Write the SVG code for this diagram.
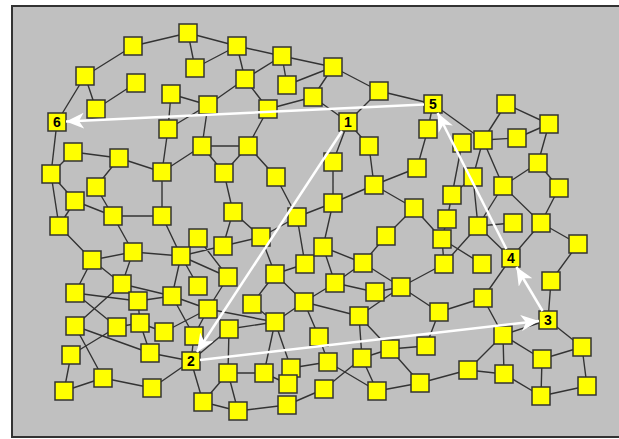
<svg xmlns="http://www.w3.org/2000/svg" width="619" height="439" viewBox="0 0 619 439">
<style>
.e path{stroke:#333;stroke-width:1.4;fill:none}
.n rect{fill:#ffff00;stroke:#333;stroke-width:1.5}
.n text{font-family:"Liberation Sans",Arial,sans-serif;font-weight:bold;font-size:14px;fill:#000;text-anchor:middle}
.a path{stroke:#fff;stroke-width:2.5;fill:none}
</style>
<defs>
<marker id="ah" markerUnits="userSpaceOnUse" markerWidth="20" markerHeight="16" refX="18" refY="8" orient="auto" viewBox="0 0 20 16">
<path d="M18,8 L0,0 L5,8 L0,16 Z" fill="#fff"/>
</marker>
</defs>
<rect x="0" y="0" width="619" height="439" fill="#fff"/>
<rect x="12" y="6" width="612" height="431" fill="#c0c0c0" stroke="#333" stroke-width="2"/>
<g id="edges" class="e">
<path d="M133 46L188 33M85 76L133 46M85 76L57 122M85 76L96 109M96 109L136 83M188 33L237 46M188 33L195 68M237 46L195 68M237 46L282 56M237 46L245 79M282 56L245 79M282 56L287 85M282 56L333 67M287 85L333 67M245 79L268 109M268 109L313 97M268 109L248 146M171 94L208 105M208 105L245 79M171 94L168 129M208 105L168 129M208 105L202 146M202 146L248 146M168 129L162 172M313 97L333 67M333 67L379 91M379 91L433 104M379 91L348 122M313 97L348 122M348 122L369 146M348 122L333 162M433 104L428 129M433 104L483 140M428 129L417 168M506 104L483 140M506 104L549 124M483 140L517 138M517 138L549 124M549 124L538 163M483 140L503 186M483 140L473 177M462 143L452 195"/>
<path d="M57 122L51 174M73 152L51 174M73 152L119 158M119 158L162 172M119 158L96 187M51 174L75 201M51 174L59 226M96 187L113 216M75 201L113 216M75 201L59 226M113 216L162 216M113 216L133 252M59 226L92 260M92 260L133 252M133 252L181 256M92 260L75 293M92 260L122 284M133 252L122 284M122 284L172 296M138 301L172 296"/>
<path d="M162 172L162 216M162 216L181 256M181 256L198 238M181 256L223 246M181 256L228 277M181 256L172 296M181 256L198 286M198 238L228 277M202 146L162 172M202 146L224 173M248 146L224 173M248 146L276 177M224 173L233 212M276 177L297 217M233 212L223 246M233 212L261 237M261 237L223 246M261 237L297 217M261 237L275 274M297 217L305 264M275 274L305 264M275 274L252 304M275 274L304 302M228 277L208 309M172 296L208 309M172 296L194 336M208 309L164 332M208 309L194 336M208 309L275 322M252 304L275 322M304 302L275 322M229 329L275 322M229 329L191 361M229 329L228 373M194 336L191 361M150 353L191 361M191 361L152 388M191 361L203 402M228 373L264 373M228 373L203 402M228 373L238 411M203 402L238 411M238 411L287 405M264 373L275 322M275 322L291 368M288 384L264 373M287 405L324 389M291 368L328 362"/>
<path d="M304 302L335 283M304 302L359 316M304 302L319 337M335 283L375 292M375 292L401 287M401 287L359 316M401 287L439 312M359 316L362 358M359 316L390 349M439 312L426 346M390 349L426 346M362 358L390 349M319 337L328 362M328 362L377 391M362 358L324 389M362 358L377 391M377 391L420 383M420 383L390 349M420 383L468 370"/>
<path d="M333 162L333 203M369 146L374 185M374 185L417 168M374 185L333 203M374 185L414 208M297 217L333 203M333 203L323 247M414 208L442 239M452 195L447 219M447 219L442 239M323 247L363 263M386 236L363 263M323 247L335 283M363 263L335 283M363 263L401 287M444 264L401 287M444 264L442 239M323 247L305 264M414 208L386 236M452 195L473 177"/>
<path d="M538 163L503 186M538 163L559 188M503 186L478 226M503 186L541 223M559 188L541 223M473 177L478 226M478 226L513 223M478 226L511 258M541 223L511 258M541 223L578 244M578 244L551 281M511 258L483 298M442 239L482 264M478 226L444 264M551 281L548 320M548 320L582 347M483 298L503 335M483 298L439 312M503 335L542 359M503 335L468 370M503 335L504 374M468 370L504 374M504 374L541 396M542 359L541 396M542 359L582 347M582 347L587 386M541 396L587 386M503 335L548 320"/>
<path d="M75 293L138 301M122 284L75 326M75 293L117 327M75 326L150 353M75 326L103 378M117 327L71 355M71 355L64 391M64 391L103 378M103 378L152 388M138 301L140 323M140 323L150 353M117 327L140 323M140 323L164 332"/>
</g>
<g class="n">
<g id="n1"><rect x="124" y="37" width="18" height="18"/></g>
<g id="n2"><rect x="179" y="24" width="18" height="18"/></g>
<g id="n3"><rect x="228" y="37" width="18" height="18"/></g>
<g id="n4"><rect x="273" y="47" width="18" height="18"/></g>
<g id="n5"><rect x="186" y="59" width="18" height="18"/></g>
<g id="n6"><rect x="236" y="70" width="18" height="18"/></g>
<g id="n7"><rect x="278" y="76" width="18" height="18"/></g>
<g id="n8"><rect x="76" y="67" width="18" height="18"/></g>
<g id="n9"><rect x="127" y="74" width="18" height="18"/></g>
<g id="n10"><rect x="87" y="100" width="18" height="18"/></g>
<g id="n11"><rect x="162" y="85" width="18" height="18"/></g>
<g id="n12"><rect x="199" y="96" width="18" height="18"/></g>
<g id="n13"><rect x="259" y="100" width="18" height="18"/></g>
<g id="n14"><rect x="304" y="88" width="18" height="18"/></g>
<g id="n15"><rect x="324" y="58" width="18" height="18"/></g>
<g id="n16"><rect x="370" y="82" width="18" height="18"/></g>
<g id="n17"><rect x="419" y="120" width="18" height="18"/></g>
<g id="n18"><rect x="360" y="137" width="18" height="18"/></g>
<g id="n19"><rect x="497" y="95" width="18" height="18"/></g>
<g id="n20"><rect x="540" y="115" width="18" height="18"/></g>
<g id="n21"><rect x="474" y="131" width="18" height="18"/></g>
<g id="n22"><rect x="508" y="129" width="18" height="18"/></g>
<g id="n23"><rect x="453" y="134" width="18" height="18"/></g>
<g id="n24"><rect x="159" y="120" width="18" height="18"/></g>
<g id="n25"><rect x="193" y="137" width="18" height="18"/></g>
<g id="n26"><rect x="239" y="137" width="18" height="18"/></g>
<g id="n27"><rect x="64" y="143" width="18" height="18"/></g>
<g id="n28"><rect x="110" y="149" width="18" height="18"/></g>
<g id="n29"><rect x="153" y="163" width="18" height="18"/></g>
<g id="n30"><rect x="42" y="165" width="18" height="18"/></g>
<g id="n31"><rect x="87" y="178" width="18" height="18"/></g>
<g id="n32"><rect x="66" y="192" width="18" height="18"/></g>
<g id="n33"><rect x="104" y="207" width="18" height="18"/></g>
<g id="n34"><rect x="153" y="207" width="18" height="18"/></g>
<g id="n35"><rect x="50" y="217" width="18" height="18"/></g>
<g id="n36"><rect x="215" y="164" width="18" height="18"/></g>
<g id="n37"><rect x="267" y="168" width="18" height="18"/></g>
<g id="n38"><rect x="224" y="203" width="18" height="18"/></g>
<g id="n39"><rect x="288" y="208" width="18" height="18"/></g>
<g id="n40"><rect x="189" y="229" width="18" height="18"/></g>
<g id="n41"><rect x="252" y="228" width="18" height="18"/></g>
<g id="n42"><rect x="214" y="237" width="18" height="18"/></g>
<g id="n43"><rect x="124" y="243" width="18" height="18"/></g>
<g id="n44"><rect x="83" y="251" width="18" height="18"/></g>
<g id="n45"><rect x="172" y="247" width="18" height="18"/></g>
<g id="n46"><rect x="296" y="255" width="18" height="18"/></g>
<g id="n47"><rect x="266" y="265" width="18" height="18"/></g>
<g id="n48"><rect x="219" y="268" width="18" height="18"/></g>
<g id="n49"><rect x="189" y="277" width="18" height="18"/></g>
<g id="n50"><rect x="163" y="287" width="18" height="18"/></g>
<g id="n51"><rect x="113" y="275" width="18" height="18"/></g>
<g id="n52"><rect x="66" y="284" width="18" height="18"/></g>
<g id="n53"><rect x="129" y="292" width="18" height="18"/></g>
<g id="n54"><rect x="324" y="153" width="18" height="18"/></g>
<g id="n55"><rect x="408" y="159" width="18" height="18"/></g>
<g id="n56"><rect x="365" y="176" width="18" height="18"/></g>
<g id="n57"><rect x="443" y="186" width="18" height="18"/></g>
<g id="n58"><rect x="324" y="194" width="18" height="18"/></g>
<g id="n59"><rect x="405" y="199" width="18" height="18"/></g>
<g id="n60"><rect x="438" y="210" width="18" height="18"/></g>
<g id="n62"><rect x="377" y="227" width="18" height="18"/></g>
<g id="n63"><rect x="433" y="230" width="18" height="18"/></g>
<g id="n64"><rect x="314" y="238" width="18" height="18"/></g>
<g id="n65"><rect x="354" y="254" width="18" height="18"/></g>
<g id="n66"><rect x="435" y="255" width="18" height="18"/></g>
<g id="n67"><rect x="326" y="274" width="18" height="18"/></g>
<g id="n68"><rect x="366" y="283" width="18" height="18"/></g>
<g id="n69"><rect x="392" y="278" width="18" height="18"/></g>
<g id="n70"><rect x="464" y="168" width="18" height="18"/></g>
<g id="n71"><rect x="494" y="177" width="18" height="18"/></g>
<g id="n72"><rect x="529" y="154" width="18" height="18"/></g>
<g id="n73"><rect x="550" y="179" width="18" height="18"/></g>
<g id="n76"><rect x="469" y="217" width="18" height="18"/></g>
<g id="n77"><rect x="504" y="214" width="18" height="18"/></g>
<g id="n78"><rect x="532" y="214" width="18" height="18"/></g>
<g id="n79"><rect x="569" y="235" width="18" height="18"/></g>
<g id="n80"><rect x="473" y="255" width="18" height="18"/></g>
<g id="n81"><rect x="542" y="272" width="18" height="18"/></g>
<g id="n82"><rect x="474" y="289" width="18" height="18"/></g>
<g id="n83"><rect x="494" y="326" width="18" height="18"/></g>
<g id="n84"><rect x="573" y="338" width="18" height="18"/></g>
<g id="n85"><rect x="459" y="361" width="18" height="18"/></g>
<g id="n86"><rect x="495" y="365" width="18" height="18"/></g>
<g id="n87"><rect x="533" y="350" width="18" height="18"/></g>
<g id="n88"><rect x="578" y="377" width="18" height="18"/></g>
<g id="n89"><rect x="532" y="387" width="18" height="18"/></g>
<g id="n90"><rect x="66" y="317" width="18" height="18"/></g>
<g id="n91"><rect x="108" y="318" width="18" height="18"/></g>
<g id="n92"><rect x="131" y="314" width="18" height="18"/></g>
<g id="n93"><rect x="155" y="323" width="18" height="18"/></g>
<g id="n94"><rect x="62" y="346" width="18" height="18"/></g>
<g id="n95"><rect x="141" y="344" width="18" height="18"/></g>
<g id="n96"><rect x="94" y="369" width="18" height="18"/></g>
<g id="n97"><rect x="55" y="382" width="18" height="18"/></g>
<g id="n98"><rect x="143" y="379" width="18" height="18"/></g>
<g id="n99"><rect x="199" y="300" width="18" height="18"/></g>
<g id="n100"><rect x="243" y="295" width="18" height="18"/></g>
<g id="n102"><rect x="295" y="293" width="18" height="18"/></g>
<g id="n103"><rect x="185" y="327" width="18" height="18"/></g>
<g id="n104"><rect x="220" y="320" width="18" height="18"/></g>
<g id="n105"><rect x="266" y="313" width="18" height="18"/></g>
<g id="n106"><rect x="219" y="364" width="18" height="18"/></g>
<g id="n107"><rect x="255" y="364" width="18" height="18"/></g>
<g id="n108"><rect x="282" y="359" width="18" height="18"/></g>
<g id="n109"><rect x="279" y="375" width="18" height="18"/></g>
<g id="n110"><rect x="194" y="393" width="18" height="18"/></g>
<g id="n111"><rect x="229" y="402" width="18" height="18"/></g>
<g id="n112"><rect x="278" y="396" width="18" height="18"/></g>
<g id="n114"><rect x="350" y="307" width="18" height="18"/></g>
<g id="n115"><rect x="430" y="303" width="18" height="18"/></g>
<g id="n116"><rect x="310" y="328" width="18" height="18"/></g>
<g id="n117"><rect x="353" y="349" width="18" height="18"/></g>
<g id="n118"><rect x="381" y="340" width="18" height="18"/></g>
<g id="n119"><rect x="417" y="337" width="18" height="18"/></g>
<g id="n120"><rect x="319" y="353" width="18" height="18"/></g>
<g id="n121"><rect x="315" y="380" width="18" height="18"/></g>
<g id="n122"><rect x="368" y="382" width="18" height="18"/></g>
<g id="n123"><rect x="411" y="374" width="18" height="18"/></g>
<g id="L1"><rect x="339" y="113" width="18" height="18"/><text x="348" y="127">1</text></g>
<g id="L2"><rect x="182" y="352" width="18" height="18"/><text x="191" y="366">2</text></g>
<g id="L3"><rect x="539" y="311" width="18" height="18"/><text x="548" y="325">3</text></g>
<g id="L4"><rect x="502" y="249" width="18" height="18"/><text x="511" y="263">4</text></g>
<g id="L5"><rect x="424" y="95" width="18" height="18"/><text x="433" y="109">5</text></g>
<g id="L6"><rect x="48" y="113" width="18" height="18"/><text x="57" y="127">6</text></g>
</g>
<g id="arrows" class="a">
<path d="M342 131L197 352" marker-end="url(#ah)"/>
<path d="M200 360L539 321" marker-end="url(#ah)"/>
<path d="M542.6 311L516.4 267" marker-end="url(#ah)"/>
<path d="M506.4 249L437.6 113" marker-end="url(#ah)"/>
<path d="M424 104.4L66 121.6" marker-end="url(#ah)"/>
</g>
</svg>
